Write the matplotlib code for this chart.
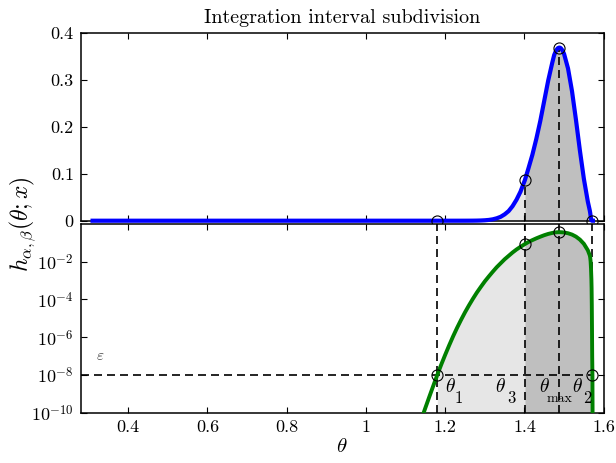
import numpy as np
import matplotlib
matplotlib.use("Agg")
import matplotlib.pyplot as plt

plt.rcParams['mathtext.fontset'] = 'cm'
plt.rcParams['font.family'] = ['cmr10', 'DejaVu Serif']
plt.rcParams['axes.unicode_minus'] = False
plt.rcParams['axes.formatter.use_mathtext'] = True

# ---- data ----
theta = np.array([0.31, 0.50, 0.70, 0.90, 1.00, 1.05, 1.08,
                  1.10, 1.11, 1.12, 1.13, 1.14, 1.15, 1.16, 1.17, 1.18, 1.19,
                  1.20, 1.21, 1.22, 1.23, 1.24, 1.25, 1.26, 1.27, 1.28, 1.29,
                  1.30, 1.31, 1.32, 1.33, 1.34, 1.35, 1.36, 1.37, 1.38, 1.39,
                  1.401, 1.41, 1.42, 1.43, 1.44, 1.45, 1.46, 1.47, 1.475, 1.48,
                  1.484, 1.4878, 1.49, 1.492, 1.496, 1.50, 1.51, 1.52, 1.53,
                  1.54, 1.55, 1.56, 1.565, 1.566, 1.567, 1.568, 1.569, 1.5695,
                  1.570, 1.5705, 1.571, 1.5716, 1.5722, 1.5728])
log_h_left = [-90, -65, -45, -27, -19.6, -16.1, -14.1,
              -12.82, -12.19, -11.57, -10.95, -10.34, -9.74, -9.15, -8.57,
              -8.00, -7.45, -6.93, -6.43, -5.95, -5.50, -5.08, -4.68, -4.31,
              -3.96, -3.63, -3.33, -3.04, -2.78, -2.53, -2.29, -2.08, -1.87,
              -1.69, -1.51, -1.35, -1.21]
h_right = [0.086, 0.111, 0.140, 0.174, 0.212, 0.255, 0.298, 0.335, 0.352, 0.362,
           0.3666, 0.368, 0.3676, 0.3664, 0.362, 0.3546, 0.3236, 0.2756, 0.2146,
           0.149, 0.089, 0.0405, 0.0215, 0.0165, 0.0105, 0.0045, 1.2e-3, 4e-4,
           5e-5, 3e-6, 1e-7, 1e-8, 1e-11, 1e-14]
h_vals = np.concatenate([10.0 ** np.array(log_h_left), np.array(h_right)])

theta1, theta3, theta_max, theta2 = 1.180, 1.401, 1.4878, 1.5716
h1, h3, hmax, h2 = 1e-8, 0.086, 0.368, 1e-8
eps = 1e-8

xticks = [0.4, 0.6, 0.8, 1.0, 1.2, 1.4, 1.6]
xtick_labels = ['0.4', '0.6', '0.8', '1', '1.2', '1.4', '1.6']
yticks_top = [0, 0.1, 0.2, 0.3, 0.4]
ytick_labels_top = ['0', '0.1', '0.2', '0.3', '0.4']
yticks_log = [1e-10, 1e-8, 1e-6, 1e-4, 1e-2]
ytick_labels_log = [r'$10^{-10}$', r'$10^{-8}$', r'$10^{-6}$', r'$10^{-4}$', r'$10^{-2}$']

light = (0.90, 0.90, 0.90)
dark = (0.75, 0.75, 0.75)
dash_kw = dict(color='k', lw=1.2, dashes=(4.8, 3.0))

fig = plt.figure(figsize=(6.16, 4.63), dpi=100)
ax1 = fig.add_axes([0.131, 0.5233, 0.849, 0.4065])
ax2 = fig.add_axes([0.131, 0.1086, 0.849, 0.4076])

m13 = (theta >= theta1) & (theta <= theta3)
m32 = (theta >= theta3) & (theta <= theta2)

# top: linear
ax1.fill_between(theta, 0, h_vals, where=m13, color=light, lw=0)
ax1.fill_between(theta, 0, h_vals, where=m32, color=dark, lw=0)
ax1.plot([theta3, theta3], [0, h3], **dash_kw)
ax1.plot([theta_max, theta_max], [0, hmax], **dash_kw)
ax1.plot(theta, h_vals, color=(0, 0, 1), lw=3.0, clip_on=False, zorder=3)
ax1.plot([theta1, theta3, theta_max, theta2], [0, h3, hmax, 0], 'o', mfc='none',
         mec='k', ms=8, mew=0.8, clip_on=False, zorder=4)
ax1.set_xlim(0.28, 1.6)
ax1.set_ylim(0, 0.4)
ax1.set_xticks(xticks)
ax1.set_xticklabels([])
ax1.set_yticks(yticks_top)
ax1.set_yticklabels(ytick_labels_top)
ax1.set_title('Integration interval subdivision', fontsize=14.5, pad=7)

# bottom: log
ax2.set_yscale('log')
ax2.fill_between(theta, 1e-10, h_vals, where=m13, color=light, lw=0)
ax2.fill_between(theta, 1e-10, h_vals, where=m32, color=dark, lw=0)
for t in [theta1, theta3, theta_max, theta2]:
    ax2.plot([t, t], [1e-10, 1], **dash_kw)
ax2.plot([0.28, theta2], [eps, eps], **dash_kw)
ax2.plot(theta, h_vals, color=(0, 0.5, 0), lw=2.8, zorder=3)
ax2.plot([theta1, theta3, theta_max, theta2], [h1, h3, hmax, h2], 'o', mfc='none',
         mec='k', ms=8, mew=0.8, zorder=4)
ax2.set_xlim(0.28, 1.6)
ax2.set_ylim(1e-10, 1)
ax2.set_xticks(xticks)
ax2.set_xticklabels(xtick_labels)
ax2.set_yticks(yticks_log)
ax2.set_yticklabels(ytick_labels_log)
ax2.minorticks_off()
ax2.set_xlabel(r'$\theta$', fontsize=15, labelpad=2)

ax2.text(0.318, 10**-7.0, r'$\varepsilon$', fontsize=11, color='0.3', ha='left', va='center')
lab_y, sub_y = 10**-8.63, 10**-9.25
labels = [(theta1, '1'), (theta3, '3'), (theta_max, 'max'), (theta2, '2')]
offs = [(0.034, 0.054), (-0.062, -0.035), (-0.037, 0.001), (-0.038, -0.014)]
sub_sizes = [12, 12, 10, 12]
for (t, s), (o1, o2), fs in zip(labels, offs, sub_sizes):
    ax2.text(t + o1, lab_y, r'$\theta$', fontsize=14, ha='center', va='center', zorder=5)
    ax2.text(t + o2, sub_y, s, fontsize=fs, ha='center', va='center', zorder=5)

for ax in (ax1, ax2):
    ax.tick_params(direction='in', length=4, width=0.8, top=True, right=True,
                   labelsize=13, pad=5)
    for sp in ax.spines.values():
        sp.set_linewidth(1.1)

fig.text(0.037, 0.516, r'$h_{\alpha,\beta}(\theta;x)$', rotation=90, fontsize=17,
         ha='center', va='center')

fig.savefig('out.png', dpi=100)
